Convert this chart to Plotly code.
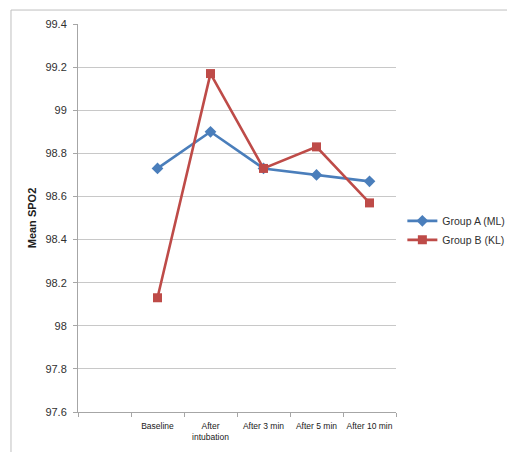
import plotly.graph_objects as go

# Time points (first slot on the category axis is intentionally empty)
categories = [" ", "Baseline", "After<br>intubation", "After 3 min", "After 5 min", "After 10 min"]
time_points = categories[1:]

group_a = [98.73, 98.90, 98.73, 98.70, 98.67]   # Group A (ML)
group_b = [98.13, 99.17, 98.73, 98.83, 98.57]   # Group B (KL)

y_ticks = [97.6, 97.8, 98.0, 98.2, 98.4, 98.6, 98.8, 99.0, 99.2, 99.4]
y_tick_text = ["97.6", "97.8", "98", "98.2", "98.4", "98.6", "98.8", "99", "99.2", "99.4"]

BLUE = "#4A7EBB"
RED = "#BE4B48"
GRID = "#C8C8C8"
FONT = "Liberation Sans"

fig = go.Figure()
fig.add_trace(go.Scatter(
    x=time_points, y=group_a, name="Group A (ML)", mode="lines+markers",
    line=dict(color=BLUE, width=2.6),
    marker=dict(symbol="diamond", size=9, color=BLUE),
))
fig.add_trace(go.Scatter(
    x=time_points, y=group_b, name="Group B (KL)", mode="lines+markers",
    line=dict(color=RED, width=2.6),
    marker=dict(symbol="square", size=9, color=RED),
))

# Outer chart frame
fig.add_shape(type="rect", xref="paper", yref="paper",
              x0=-0.2107, x1=1.6, y0=-0.6, y1=1.036,
              line=dict(color="#BFBFBF", width=1), layer="below")

fig.update_layout(
    width=507, height=452,
    margin=dict(l=78, r=111, t=24, b=40, autoexpand=False),
    paper_bgcolor="white", plot_bgcolor="white",
    font=dict(family=FONT, color="#404040"),
    showlegend=True,
    legend=dict(x=1.02, y=0.53, xanchor="left", yanchor="top",
                font=dict(size=10.5, color="#303030", family=FONT),
                bgcolor="rgba(0,0,0,0)", tracegroupgap=0, itemwidth=30),
    xaxis=dict(
        type="category", categoryorder="array", categoryarray=categories,
        range=[-0.5, 5.5], tickson="boundaries", tickangle=0,
        ticks="outside", ticklen=4, tickcolor="#A6A6A6",
        showline=True, linecolor="#A6A6A6", linewidth=1,
        showgrid=False, zeroline=False,
        tickfont=dict(size=8.5, color="#202020", family=FONT),
        ticklabelstandoff=6,
    ),
    yaxis=dict(
        range=[97.6, 99.4], tickvals=y_ticks, ticktext=y_tick_text,
        ticks="outside", ticklen=4, tickcolor="#A6A6A6",
        showline=True, linecolor="#A6A6A6", linewidth=1,
        showgrid=True, gridcolor=GRID, gridwidth=1, zeroline=False,
        tickfont=dict(size=11, color="#303030", family=FONT),
        ticklabelstandoff=4,
        title=dict(text="<b>Mean SPO2</b>", font=dict(size=11, color="#202020", family=FONT),
                   standoff=6),
    ),
)

fig.write_html("out.html")
